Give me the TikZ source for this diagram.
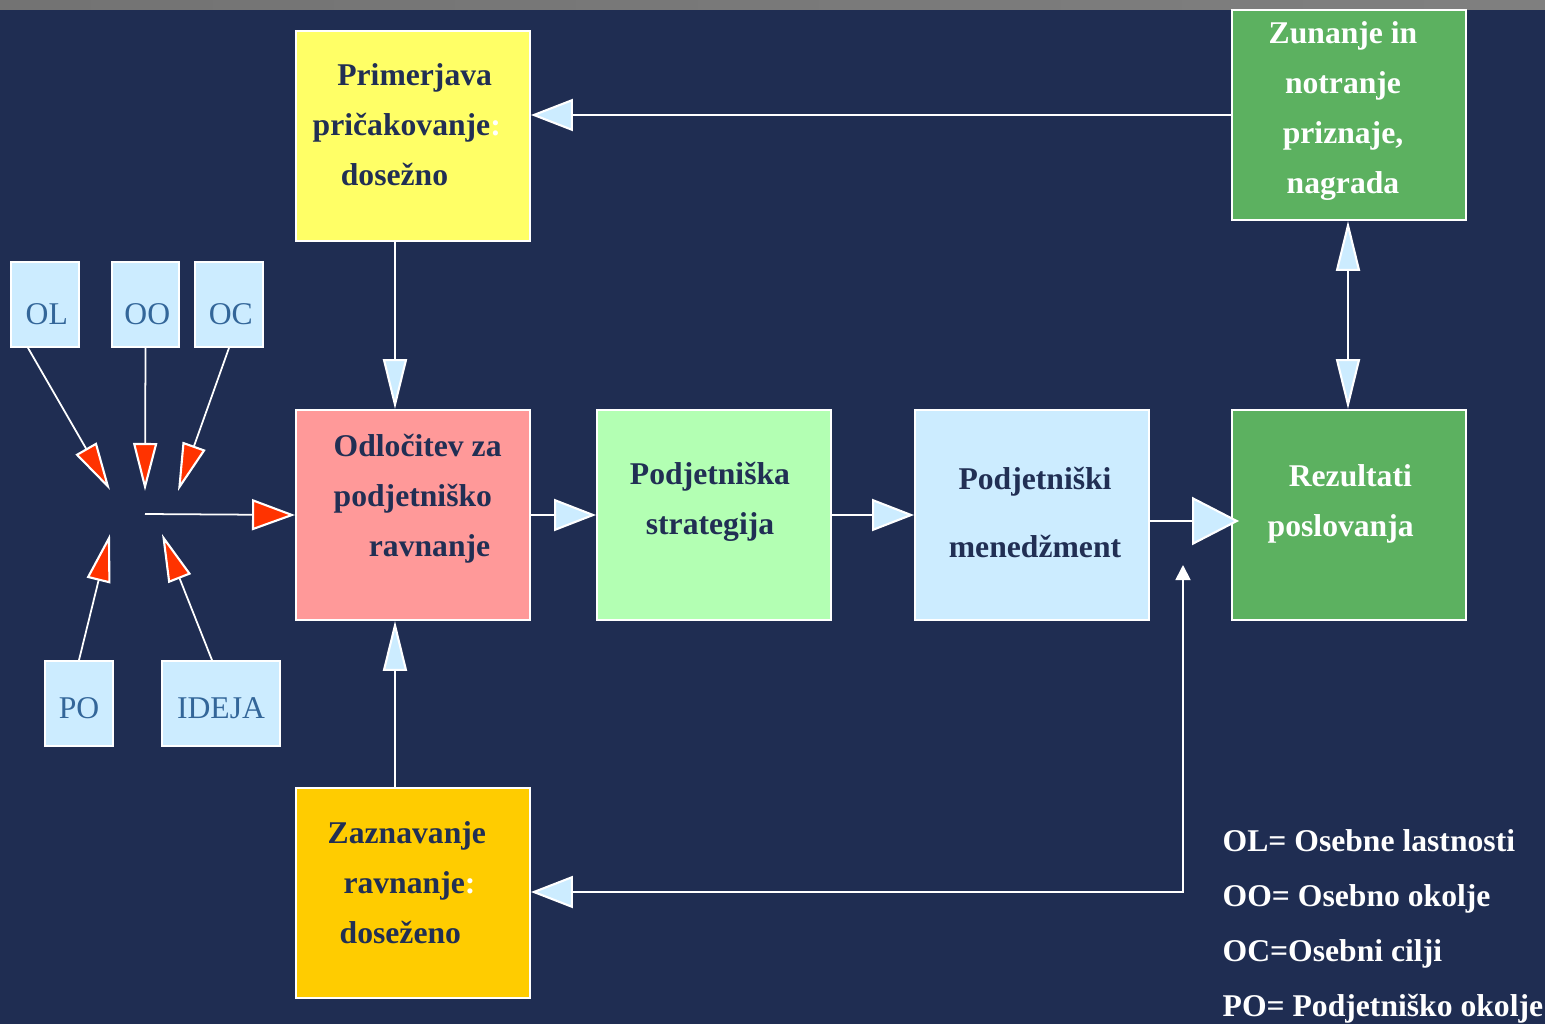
\documentclass[tikz,border=0pt]{standalone}
\usepackage{fontspec}
\setmainfont{Liberation Serif}
\usetikzlibrary{arrows.meta}
\definecolor{bgnavy}{RGB}{31,45,82}
\definecolor{txtnavy}{RGB}{33,47,84}
\definecolor{boxyellow}{RGB}{255,255,102}
\definecolor{boxpink}{RGB}{255,153,153}
\definecolor{boxmint}{RGB}{179,255,179}
\definecolor{boxsky}{RGB}{204,236,255}
\definecolor{boxgreen}{RGB}{92,177,96}
\definecolor{boxorange}{RGB}{255,204,0}
\definecolor{tipred}{RGB}{255,51,0}
\definecolor{smallblue}{RGB}{51,102,153}
\tikzset{
  bigbox/.style={
    draw=white,
    line width=0.5pt,
    minimum width=2.34cm,
    minimum height=2.1cm,
    inner sep=0pt
  },
  smallbox/.style={
    draw=white,
    line width=0.5pt,
    fill=boxsky,
    minimum height=0.85cm,
    inner sep=0pt,
    text=smallblue,
    font=\fontsize{9}{11}\selectfont,
    text height=0.39cm,
    text depth=0pt
  },
  boxtext/.style={
    inner sep=0pt,
    text=txtnavy,
    font=\fontsize{9}{14.2}\selectfont\bfseries
  },
  conn/.style={draw=white, line width=0.5pt},
  skytip/.tip={Triangle[length=0.42cm, width=0.32cm, fill=boxsky, line width=0.6pt]},
  skybig/.tip={Triangle[length=0.47cm, width=0.48cm, fill=boxsky, line width=0.6pt]},
  skyvert/.tip={Triangle[length=0.5cm, width=0.24cm, fill=boxsky, line width=0.6pt]},
  redtip/.tip={Triangle[length=0.48cm, width=0.24cm, fill=tipred, line width=0.6pt]},
  redwide/.tip={Triangle[length=0.43cm, width=0.31cm, fill=tipred, line width=0.6pt]},
  whitetip/.tip={Triangle[length=0.15cm, width=0.15cm, fill=white]}
}

\begin{document}
\begin{tikzpicture}[x=0.01cm, y=-0.01cm]
  \useasboundingbox (0,0) rectangle (1545,1024);
  \fill[bgnavy] (0,0) rectangle (1545,1024);
  \shade[left color=black!55, middle color=black!8, right color=black!50] (0,0) rectangle (1545,9);

  % the boxes
  \node[bigbox, fill=boxyellow] (prim) at (413,136) {};
  \node[bigbox, fill=boxgreen] (zun) at (1349,115) {};
  \node[bigbox, fill=boxpink] (odl) at (413,515) {};
  \node[bigbox, fill=boxmint] (str) at (714,515) {};
  \node[bigbox, fill=boxsky] (men) at (1032,515) {};
  \node[bigbox, fill=boxgreen] (rez) at (1349,515) {};
  \node[bigbox, fill=boxorange] (zaz) at (413,893) {};

  \node[smallbox, minimum width=0.68cm] (ol) at (45,304.5) {\hspace*{1pt}OL};
  \node[smallbox, minimum width=0.67cm] (oo) at (145.5,304.5) {\hspace*{1pt}OO};
  \node[smallbox, minimum width=0.68cm] (oc) at (229,304.5) {\hspace*{1pt}OC};
  \node[smallbox, minimum width=0.68cm, text height=0.3cm] (po) at (79,703.5) {PO};
  \node[smallbox, minimum width=1.18cm, text height=0.3cm] (ideja) at (221,703.5) {IDEJA};

  % texts in the boxes
  \node[boxtext, anchor=west, align=left] (primT) at (312,125)
    {\hspace*{7pt}Primerjava\\pričakovanje\textcolor{white}{:}\\\hspace*{8pt}dosežno};
  \node[boxtext, text=white, align=center] (zunT) at (1343,111)
    {Zunanje in\\notranje\\priznaje,\\nagrada};
  \node[boxtext, anchor=west, align=left] (odlT) at (333,499)
    {Odločitev za\\podjetniško\\\hspace*{10pt}ravnanje};
  \node[boxtext, align=center] (strT) at (710,502) {Podjetniška\\strategija};
  \node[boxtext, align=center] (menT) at (1035,512.5) {Podjetniški\\[5pt]menedžment};
  \node[boxtext, text=white, anchor=west, align=left] (rezT) at (1267,503.5)
    {\hspace*{6pt}Rezultati\\poslovanja};
  \node[boxtext, anchor=west, align=left] (zazT) at (327,882.5)
    {Zaznavanje\\\hspace*{4.5pt}ravnanje\textcolor{white}{:}\\\hspace*{3.4pt}doseženo};

  % legend
  \node[boxtext, text=white, anchor=west, align=left,
        font=\fontsize{9}{15.65}\selectfont\bfseries] (legend) at (1222,926.5)
    {OL= Osebne lastnosti\\OO= Osebno okolje\\OC=Osebni cilji\\PO= Podjetniško okolje};

  % red arrows round the idea
  \coordinate (hub) at (145,514);
  \coordinate (tOL) at (110,490);
  \coordinate (tOO) at (145,491);
  \coordinate (tOC) at (178,491);
  \coordinate (tPO) at (110,534);
  \coordinate (tID) at (162,534);
  \draw[conn, -redtip] ([xshift=-0.17cm]ol.south) -- (tOL);
  \draw[conn, -redtip] (oo.south) -- (tOO);
  \draw[conn, -redtip] (oc.south) -- (tOC);
  \draw[conn, -redtip] (po.north) -- (tPO);
  \draw[conn, -redtip] ([xshift=-0.09cm]ideja.north) -- (tID);
  \draw[conn, -redwide] (hub) -- (odl.west);

  % main flow
  \draw[conn, -skytip] (odl.east) -- (str.west);
  \draw[conn, -skytip] (str.east) -- (men.west);
  \draw[conn, -skybig] ([yshift=-0.06cm]men.east) -- ([xshift=0.08cm, yshift=-0.06cm]rez.west);
  \draw[conn, skyvert-skyvert] ([xshift=-0.01cm]rez.north) -- ([xshift=-0.01cm]zun.south);
  \draw[conn, -skytip] (zun.west) -- (zun.west -| prim.east);
  \draw[conn, -skyvert] ([xshift=-0.18cm]prim.south) -- ([xshift=-0.18cm]odl.north);
  \draw[conn, -skyvert] ([xshift=-0.18cm]zaz.north) -- ([xshift=-0.18cm]odl.south);

  % feedback from the results
  \coordinate (fbtop) at (1183,565);
  \coordinate (fb) at (1183,892);
  \draw[conn, whitetip-skytip] (fbtop) -- (fb) -- (fb -| zaz.east);
\end{tikzpicture}
\end{document}
